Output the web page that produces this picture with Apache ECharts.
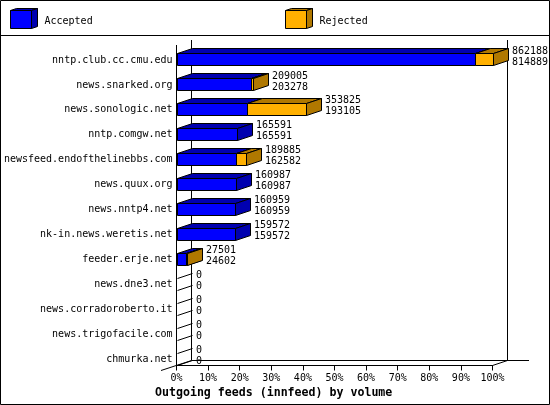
<!DOCTYPE html>
<html><head><meta charset="utf-8">
<style>html,body{margin:0;padding:0;background:#fff}#c{width:550px;height:405px}</style>
<script src="https://cdn.jsdelivr.net/npm/echarts@6/dist/echarts.min.js"></script>
</head><body><div id="c"></div>
<script>
const categories = ['nntp.club.cc.cmu.edu','news.snarked.org','news.sonologic.net','nntp.comgw.net','newsfeed.endofthelinebbs.com','news.quux.org','news.nntp4.net','nk-in.news.weretis.net','feeder.erje.net','news.dne3.net','news.corradoroberto.it','news.trigofacile.com','chmurka.net'];
const totals = [862188,209005,353825,165591,189885,160987,160959,159572,27501,0,0,0,0];
const accepted = [814889,203278,193105,165591,162582,160987,160959,159572,24602,0,0,0,0];
const seriesNames = ['Accepted','Rejected'];
const titleText = 'Outgoing feeds (innfeed) by volume';
const colors = {Accepted:['#0000ff','#0000b0','#0000b0'],Rejected:['#ffb000','#b07800','#b07800']};
const FONT = '"DejaVu Sans Mono", monospace';
const DX = 15, DY = 5, H = 12, OFF = 5.5;
const maxV = Math.max(...totals);
const pct = v => v / maxV * 100;
const rows = categories.map((c,i)=>[i, pct(accepted[i]), pct(totals[i]), accepted[i], totals[i]]);
const snap = v => Math.round(v) + 0.5;

function box(x0,x1,yc,c){
  const yt = snap(yc+OFF-H/2), yb = yt+H;
  const st = {stroke:'#000',lineWidth:1};
  return [
   {type:'polygon',shape:{points:[[x0,yt],[x1,yt],[x1+DX,yt-DY],[x0+DX,yt-DY]]},style:{fill:c[1],...st}},
   {type:'polygon',shape:{points:[[x1,yt],[x1+DX,yt-DY],[x1+DX,yb-DY],[x1,yb]]},style:{fill:c[2],...st}},
   {type:'rect',shape:{x:x0,y:yt,width:x1-x0,height:H},style:{fill:c[0],...st}}
  ];
}
function lines(x0,yc){
  const yt = snap(yc+OFF-H/2), yb = yt+H;
  return [yt,yb].map(y=>({type:'line',shape:{x1:x0,y1:y,x2:x0+DX,y2:y-DY},style:{stroke:'#000',lineWidth:1}}));
}
function renderAccepted(p,api){
  const a = api.coord([api.value(1),api.value(0)]), z = api.coord([0,api.value(0)]);
  const x0 = snap(z[0]), x1 = snap(a[0]);
  return {type:'group',children: api.value(1)>0 ? box(x0,x1,a[1],colors.Accepted) : lines(x0,a[1])};
}
function renderRejected(p,api){
  const a = api.coord([api.value(1),api.value(0)]), t = api.coord([api.value(2),api.value(0)]);
  const x0 = snap(a[0]), x1 = snap(t[0]);
  const kids = api.value(2)>api.value(1) ? box(x0,x1,a[1],colors.Rejected) : [];
  const tx = x1+DX+3.5;
  kids.push({type:'text',style:{x:tx,y:a[1]-2.5,text:String(api.value(4)),font:'10px '+FONT,fill:'#000',verticalAlign:'middle'}});
  kids.push({type:'text',style:{x:tx,y:a[1]+8.5,text:String(api.value(3)),font:'10px '+FONT,fill:'#000',verticalAlign:'middle'}});
  return {type:'group',children:kids};
}
function frameLine(x1,y1,x2,y2){return {type:'line',z:-1,shape:{x1,y1,x2,y2},style:{stroke:'#000',lineWidth:1}};}
function legendBox(x,c){
  const st={stroke:'#000',lineWidth:1};
  return [
   {type:'polygon',shape:{points:[[x,10.5],[x+21,10.5],[x+27,8.5],[x+6,8.5]]},style:{fill:c[1],...st}},
   {type:'polygon',shape:{points:[[x+21,10.5],[x+27,8.5],[x+27,26.5],[x+21,28.5]]},style:{fill:c[2],...st}},
   {type:'rect',shape:{x:x,y:10.5,width:21,height:18},style:{fill:c[0],...st}}
  ];
}
const chart = echarts.init(document.getElementById('c'),null,{renderer:'canvas'});
chart.setOption({
  animation:false,
  backgroundColor:'#fff',
  title:{text:titleText,left:155,top:387,padding:0,textStyle:{fontFamily:FONT,fontSize:11.6,fontWeight:'bold',color:'#000'}},
  grid:{left:176.5,top:41,width:316,height:324.5,containLabel:false},
  xAxis:{type:'value',min:0,max:100,interval:10,splitLine:{show:false},
    axisLine:{show:true,lineStyle:{color:'#000'}},
    axisTick:{show:true,length:5,lineStyle:{color:'#000'}},
    axisLabel:{formatter:'{value}%',margin:8,fontFamily:FONT,fontSize:10,color:'#000',hideOverlap:false,showMinLabel:true,showMaxLabel:true}},
  yAxis:{type:'category',inverse:true,data:categories,axisLine:{show:false},axisTick:{show:false},
    axisLabel:{margin:4,fontFamily:FONT,fontSize:10,color:'#000',interval:0,verticalAlign:'top',padding:[1.5,0,0,0]}},
  graphic:[
    {type:'rect',z:-1,shape:{x:0.5,y:0.5,width:549,height:404},style:{fill:null,stroke:'#000',lineWidth:1}},
    frameLine(0,35.5,550,35.5),
    frameLine(176.5,45,176.5,366),
    frameLine(191.5,40,191.5,360.5),
    frameLine(507.5,40,507.5,360.5),
    frameLine(191.5,360.5,529,360.5),
    frameLine(161,370.5,191.5,360.5),
    frameLine(492.5,365.5,507.5,360.5),
    ...legendBox(10.5,colors.Accepted),
    ...legendBox(285.5,colors.Rejected),
    {type:'text',style:{x:44.5,y:21,text:seriesNames[0],font:'10px '+FONT,fill:'#000',verticalAlign:'middle'}},
    {type:'text',style:{x:319.5,y:21,text:seriesNames[1],font:'10px '+FONT,fill:'#000',verticalAlign:'middle'}}
  ],
  series:[
    {type:'custom',name:seriesNames[0],renderItem:renderAccepted,data:rows,clip:false,silent:true,encode:{x:[1,2],y:0}},
    {type:'custom',name:seriesNames[1],renderItem:renderRejected,data:rows,clip:false,silent:true,encode:{x:[1,2],y:0}}
  ]
});
</script></body></html>
